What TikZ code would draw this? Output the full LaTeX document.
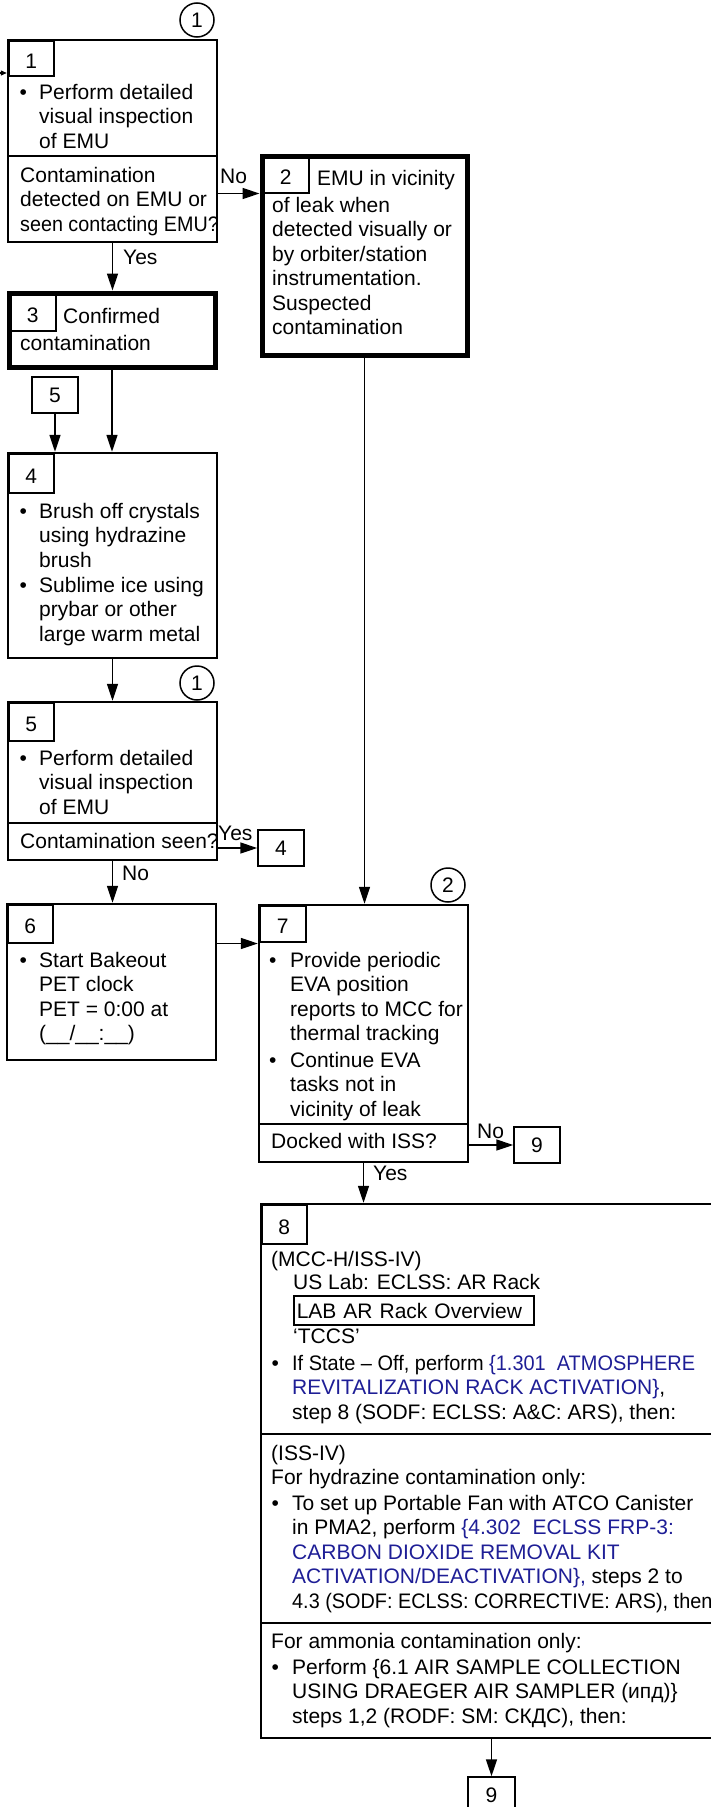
\documentclass[tikz,border=0pt]{standalone}
\usepackage{fontspec}
\usepackage{graphicx}
\setmainfont{Liberation Sans}
\usetikzlibrary{arrows.meta}
\definecolor{linkblue}{RGB}{30,30,150}
\begin{document}
\begin{tikzpicture}[x=1pt,y=-1pt,
  font=\fontsize{21}{24.5}\selectfont,
  box/.style={draw, line width=2.4, inner sep=0, minimum width=209},
  thickbox/.style={draw, line width=5, inner sep=0},
  tab/.style={draw, line width=1.5, inner sep=0, minimum width=45, minimum height=36, anchor=north west, text height=20},
  refbox/.style={draw, line width=1.5, inner sep=0, minimum width=46, minimum height=36},
  conn/.style={circle, draw, line width=1.5, inner sep=0, minimum size=34},
  txt/.style={anchor=base west, inner sep=0, align=left},
  arr/.style={line width=1.5, -{Triangle[length=17pt,width=11pt]}},
  div/.style={line width=2.4},
]
\useasboundingbox (0,0) rectangle (710,1807);
% multi-line text nodes are placed by the baseline of their LAST line

% ---------- box 1
\node[conn] (c1) at (197,20) {1};
\node[box, minimum height=202] (b1) at (112.5,141) {};
\node[tab, minimum height=35] (t1) at (8,40) {1};
\draw[div] (8,156) -- (217,156);
\node[txt] (p1) at (19.5,99) {\textbullet};
\node[txt] (s1) at (39,148) {Perform detailed\\visual inspection\\of EMU};
\node[txt] (q1) at (20,231) {Contamination\\detected on EMU or\\\scalebox{0.94}[1]{seen contacting EMU?}};
\coordinate (in1) at (0,73);
\draw[line width=1.2, -{Triangle[length=6pt,width=5pt]}] (in1) -- (in1 -| b1.west);

% ---------- box 2
\node[thickbox, minimum width=205, minimum height=199] (b2) at (364.5,255.5) {};
\node[tab, minimum width=46] (t2) at (262,156) {2};
\node[txt] (s2a) at (317,185) {EMU in vicinity};
\node[txt] (s2b) at (272,334.5) {of leak when\\detected visually or\\by orbiter/station\\instrumentation.\\Suspected\\contamination};

% ---------- box 3
\node[thickbox, minimum width=206, minimum height=74] (b3) at (112,330) {};
\node[tab, minimum width=46, minimum height=37] (t3) at (9,293) {3};
\node[txt] (s3a) at (63,323) {Confirmed};
\node[txt] (s3b) at (20,350) {contamination};

% ---------- ref 5
\node[refbox] (r5) at (55,395) {5};

% ---------- box 4
\node[box, minimum height=205] (b4) at (112.5,555.5) {};
\node[tab, minimum height=39] (t4) at (8,453) {4};
\node[txt] (p4a) at (19.5,518) {\textbullet};
\node[txt] (s4a) at (39,567) {Brush off crystals\\using hydrazine\\brush};
\node[txt] (p4b) at (19.5,592) {\textbullet};
\node[txt] (s4b) at (39,641) {Sublime ice using\\prybar or other\\large warm metal};

% ---------- box 5
\node[conn] (c1b) at (197,683) {1};
\node[box, minimum height=158] (b5) at (112.5,781) {};
\node[tab, minimum height=38] (t5) at (8,702) {5};
\draw[div] (8,823) -- (217,823);
\node[txt] (p5) at (19.5,765) {\textbullet};
\node[txt] (s5) at (39,814) {Perform detailed\\visual inspection\\of EMU};
\node[txt] (q5) at (20,848) {Contamination seen?};
\node[refbox] (r4) at (281,848) {4};

% ---------- box 6
\node[box, minimum height=156] (b6) at (111.5,982) {};
\node[tab, minimum height=38] (t6) at (7,904) {6};
\node[txt] (p6) at (19.5,967) {\textbullet};
\node[txt] (s6) at (39,1040.5) {Start Bakeout\\PET clock\\PET = 0:00 at\\(\_\_/\_\_:\_\_)};

% ---------- box 7
\node[conn] (c2) at (448,885) {2};
\node[box, minimum height=257] (b7) at (363.5,1033.5) {};
\node[tab, minimum width=46, minimum height=36] (t7) at (259,905) {7};
\draw[div] (259,1124) -- (468,1124);
\node[txt] (p7a) at (269,967) {\textbullet};
\node[txt] (s7a) at (290,1040.5) {Provide periodic\\EVA position\\reports to MCC for\\thermal tracking};
\node[txt] (p7b) at (269,1067) {\textbullet};
\node[txt] (s7b) at (290,1116) {Continue EVA\\tasks not in\\vicinity of leak};
\node[txt] (q7) at (271,1148) {Docked with ISS?};
\node[refbox] (r9a) at (537,1145) {9};

% ---------- box 8
\node[box, minimum width=499, minimum height=534] (b8) at (510.5,1471) {};
\node[tab, minimum height=39] (t8) at (261,1204) {8};
\node[txt] (m1) at (271,1266) {(MCC-H/ISS-IV)};
\node[txt] (m2) at (293,1289) {US Lab: ECLSS: AR Rack};
\node[draw, line width=1.5, anchor=west, inner xsep=3, inner ysep=0, text width=234, minimum height=29, align=left] (m3) at (293,1310.5) {LAB AR Rack Overview};
\node[txt] (m4) at (293,1343) {‘TCCS’};
\node[txt] (p8a) at (271.5,1370) {\textbullet};
\node[txt] (m5) at (292,1419) {\scalebox{0.95}[1]{If State – Off, perform \textcolor{linkblue}{\{1.301\ \ ATMOSPHERE}}\\\textcolor{linkblue}{REVITALIZATION RACK ACTIVATION\}},\\step 8 (SODF: ECLSS: A\&C: ARS), then:};
\draw[div] (261,1434) -- (760,1434);
\node[txt] (h1) at (271,1484.5) {(ISS-IV)\\For hydrazine contamination only:};
\node[txt] (p8b) at (271.5,1510) {\textbullet};
\node[txt] (h2) at (292,1608) {To set up Portable Fan with ATCO Canister\\in PMA2, perform \textcolor{linkblue}{\{4.302\ \ ECLSS FRP-3:}\\\textcolor{linkblue}{CARBON DIOXIDE REMOVAL KIT}\\\textcolor{linkblue}{ACTIVATION/DEACTIVATION\},} steps 2 to\\\scalebox{0.945}[1]{4.3 (SODF: ECLSS: CORRECTIVE: ARS), then:}};
\draw[div] (261,1623) -- (760,1623);
\node[txt] (a1) at (271,1648) {For ammonia contamination only:};
\node[txt] (p8c) at (271.5,1674) {\textbullet};
\node[txt] (a2) at (292,1723) {Perform \{6.1 AIR SAMPLE COLLECTION\\USING DRAEGER AIR SAMPLER (ипд)\}\\steps 1,2 (RODF: SM: СКДС), then:};
\node[refbox, minimum width=47] (r9b) at (491.5,1795) {9};

% ---------- connectors
\draw[arr] (b1.east |- t2.south) -- (b2.west |- t2.south);
\node[txt] (no1) at (220,183) {No};
\draw[arr] (b1.south) -- (b1.south |- b3.north);
\node[txt] (y1) at (123,264) {Yes};
\draw[arr] (b3.south) -- (b3.south |- b4.north);
\draw[arr] (r5.south) -- (r5.south |- b4.north);
\draw[arr] (b4.south) -- (b4.south |- b5.north);
\draw[arr] (b5.east |- r4.west) -- (r4.west);
\node[txt] (y2) at (218,840) {Yes};
\draw[arr] (b5.south) -- (b5.south |- b6.north);
\node[txt] (no2) at (122,880) {No};
\draw[arr] (b6.east |- t6.south) -- (b7.west |- t6.south);
\draw[arr] (b2.south) -- (b2.south |- b7.north);
\draw[arr] (b7.east |- r9a.west) -- (r9a.west);
\node[txt] (no3) at (477,1138) {No};
\draw[arr] (b7.south) -- (b7.south |- b8.north);
\node[txt] (y3) at (373,1180) {Yes};
\draw[arr] (r9b.north |- b8.south) -- (r9b.north);
\end{tikzpicture}
\end{document}
